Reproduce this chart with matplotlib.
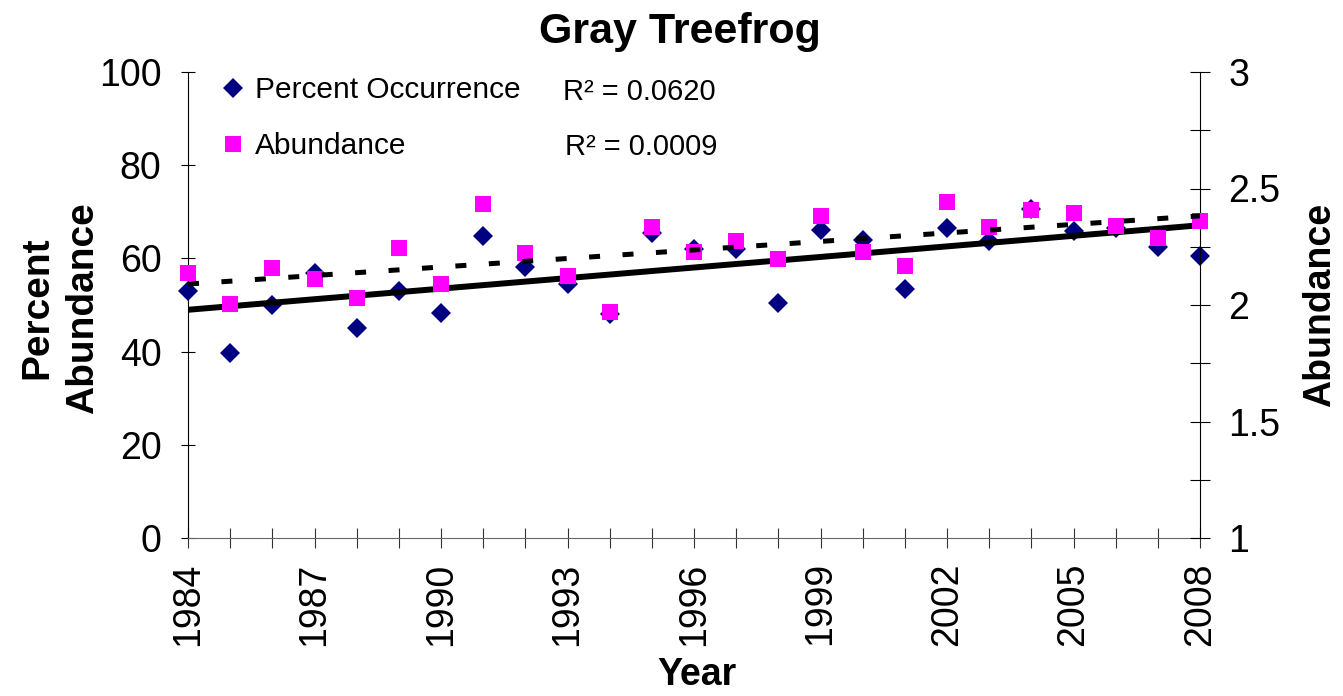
import numpy as np
import matplotlib
matplotlib.use('Agg')
import matplotlib.pyplot as plt
from matplotlib.lines import Line2D

plt.rcParams['font.family'] = ['Liberation Sans', 'DejaVu Sans']

# data
years = np.arange(1984, 2009)
pct_occurrence = [52.9, 39.8, 49.9, 56.8, 45.1, 52.9, 48.2, 64.8, 58.2, 54.5,
                  48.1, 65.4, 62.0, 62.0, 50.5, 66.2, 63.9, 53.4, 66.6, 63.8,
                  70.7, 65.9, 66.5, 62.4, 60.6]
abundance = [2.136, 2.004, 2.160, 2.110, 2.029, 2.243, 2.089, 2.433, 2.222, 2.124,
             1.969, 2.336, 2.229, 2.276, 2.196, 2.383, 2.229, 2.169, 2.443, 2.336,
             2.408, 2.396, 2.339, 2.286, 2.361]
r2_labels = ['R\u00b2 = 0.0620', 'R\u00b2 = 0.0009']
left_ticks = [0, 20, 40, 60, 80, 100]
right_ticks = [1, 1.25, 1.5, 1.75, 2, 2.25, 2.5, 2.75, 3]
right_ticklabels = ['1', '', '1.5', '', '2', '', '2.5', '', '3']

W, H = 1343, 696
fig = plt.figure(figsize=(W / 100, H / 100), dpi=100)
ax = fig.add_axes([188 / W, 1 - 538 / H, (1200 - 188) / W, (538 - 72) / H])
ax2 = ax.twinx()

# linear trends
p1 = np.polyfit(years, pct_occurrence, 1)
p2 = np.polyfit(years, abundance, 1)

ax.plot(years, pct_occurrence, linestyle='none', marker='D', ms=10.5,
        color='#000080', mew=0, clip_on=False, zorder=3)
ax.plot(years, np.polyval(p1, years), color='black', lw=4.3, zorder=4,
        solid_capstyle='butt')
ax2.plot(years, abundance, linestyle='none', marker='s', ms=11.8,
         color='#FF00FF', mew=0, clip_on=False, zorder=3)
ax2.plot(years, np.polyval(p2, years), color='black', lw=3.6,
         linestyle=(0, (2.2, 4.5)), zorder=4)

ax.set_xlim(1984, 2008)
ax.set_ylim(0, 100)
ax2.set_ylim(1, 3)

ax.set_xticks(years)
ax.set_xticklabels([str(y) if (y - 1984) % 3 == 0 else '' for y in years],
                   rotation=90, fontsize=27)
ax.set_yticks(left_ticks)
ax.set_yticklabels([str(v) for v in left_ticks], fontsize=27)
ax2.set_yticks(right_ticks)
ax2.set_yticklabels(right_ticklabels, fontsize=27)

ax.tick_params(axis='x', direction='inout', length=15, width=0.8, pad=10,
               color='#333333')
ax.tick_params(axis='y', direction='inout', length=10, width=0.8, pad=14)
ax2.tick_params(axis='y', direction='inout', length=15, width=0.8, pad=13)

for a in (ax, ax2):
    a.spines['top'].set_visible(False)
    for s in a.spines.values():
        s.set_linewidth(0.8)
ax.spines['right'].set_visible(False)
ax2.spines['left'].set_visible(False)
ax2.spines['bottom'].set_visible(False)
ax.spines['bottom'].set_color('#666666')

fig.text(680 / W, 1 - 32 / H, 'Gray Treefrog', fontsize=31, fontweight='bold',
         ha='center', va='center')
fig.text(60 / W, 1 - 308 / H, 'Percent\nAbundance', fontsize=28,
         fontweight='bold', rotation=90, ha='center', va='center',
         linespacing=1.35)
fig.text(1320 / W, 1 - 305 / H, 'Abundance', fontsize=27, fontweight='bold',
         rotation=90, ha='center', va='center')
fig.text(697 / W, 1 - 675 / H, 'Year', fontsize=27, fontweight='bold',
         ha='center', va='center')

handles = [Line2D([], [], linestyle='none', marker='D', ms=10.5, mew=0,
                  color='#000080'),
           Line2D([], [], linestyle='none', marker='s', ms=11.8, mew=0,
                  color='#FF00FF')]
ax.legend(handles, ['Percent Occurrence', 'Abundance'], loc='upper left',
          bbox_to_anchor=(218 / W, 1 - 76 / H), bbox_transform=fig.transFigure,
          frameon=False, fontsize=21.5, borderpad=0, borderaxespad=0,
          handlelength=1.0, handletextpad=0.23, labelspacing=0.95)

fig.text(563 / W, 1 - 92 / H, r2_labels[0], fontsize=21, ha='left',
         va='center')
fig.text(565 / W, 1 - 147 / H, r2_labels[1], fontsize=21, ha='left',
         va='center')

fig.savefig('out.png', dpi=100)
